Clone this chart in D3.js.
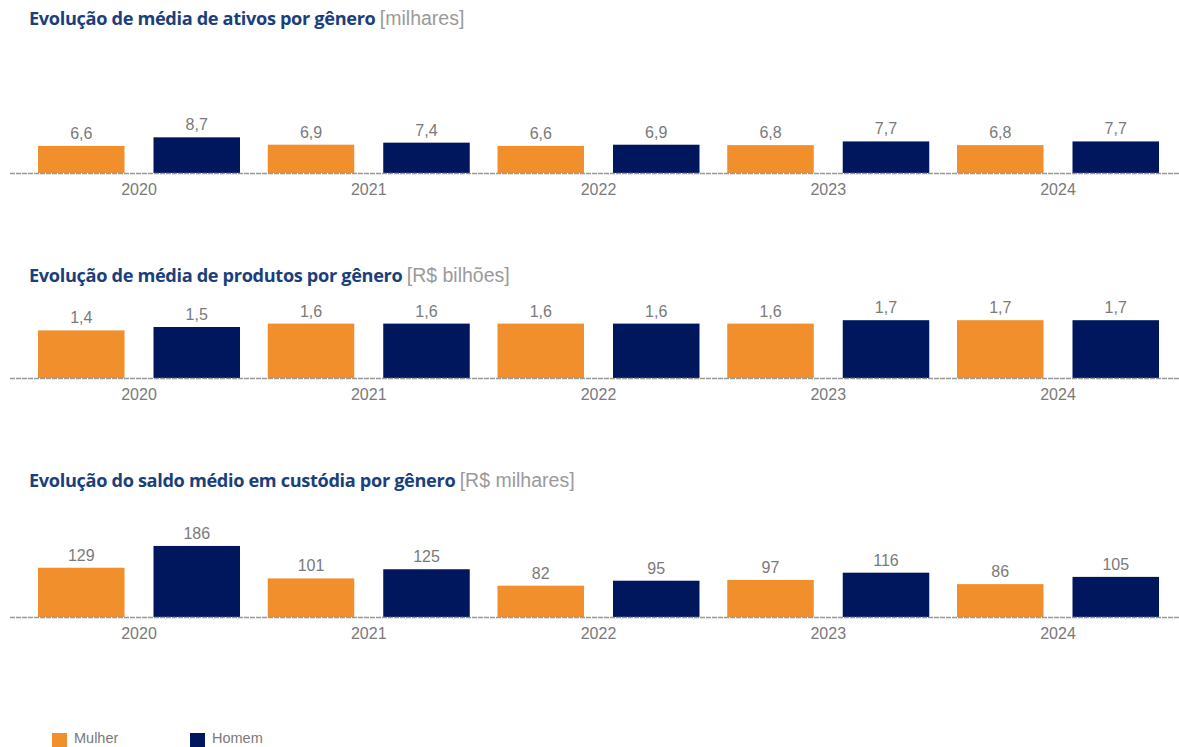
<!DOCTYPE html>
<html><head><meta charset="utf-8">
<script src="https://cdn.jsdelivr.net/npm/d3@7"></script>
<style>
body{margin:0;background:#fff;}
svg{display:block;font-family:"Liberation Sans",Arial,sans-serif;}
</style></head>
<body>
<svg id="c" width="1179" height="747"></svg>
<script>
const years = ["2020","2021","2022","2023","2024"];
const genders = ["Mulher","Homem"];
const ativosMulher = [6.6, 6.9, 6.6, 6.8, 6.8];
const ativosHomem  = [8.7, 7.4, 6.9, 7.7, 7.7];
const produtosMulher = [1.4, 1.6, 1.6, 1.6, 1.7];
const produtosHomem  = [1.5, 1.6, 1.6, 1.7, 1.7];
const saldoMulher = [129, 101, 82, 97, 86];
const saldoHomem  = [186, 125, 95, 116, 105];
const titles = ["Evolução de média de ativos por gênero","Evolução de média de produtos por gênero","Evolução do saldo médio em custódia por gênero"];
const units = ["[milhares]","[R$ bilhões]","[R$ milhares]"];

const colors = {Mulher:"#F18F2C", Homem:"#00175E"};
const svg = d3.select("#c");

const x0 = d3.scaleBand().domain(years).range([38,1159]).paddingInner(0.1208).paddingOuter(0);
const x1 = d3.scaleBand().domain(genders).range([0,x0.bandwidth()]).paddingInner(0.251).paddingOuter(0);

const panels = [
  {title:titles[0], unit:units[0], m:ativosMulher, h:ativosHomem, base:173, dom:[0,10], px:41, titleY:25, fmt:d=>d.toFixed(1).replace(".",",")},
  {title:titles[1], unit:units[1], m:produtosMulher, h:produtosHomem, base:378, dom:[0,2], px:68, titleY:282, fmt:d=>d.toFixed(1).replace(".",",")},
  {title:titles[2], unit:units[2], m:saldoMulher, h:saldoHomem, base:617, dom:[0,200], px:76.4, titleY:487, fmt:d=>String(d)}
];

panels.forEach(p=>{
  const y = d3.scaleLinear().domain(p.dom).range([p.base, p.base - p.px]);
  const g = svg.append("g");
  const t = g.append("text").attr("x",29).attr("y",p.titleY).attr("font-size",18.2)
    .attr("font-family","'Open Sans',sans-serif");
  t.append("tspan").attr("font-weight","bold").attr("fill","#1B3F7C").attr("letter-spacing",-0.35).text(p.title+" ");
  t.append("tspan").attr("fill","#9a9a9a").attr("font-family","'Liberation Sans',Arial,sans-serif").attr("font-size",19.5).text(p.unit);

  const data = [];
  years.forEach((yr,i)=>{
    data.push({year:yr, g:"Mulher", v:p.m[i]});
    data.push({year:yr, g:"Homem", v:p.h[i]});
  });
  g.selectAll("rect.bar").data(data).join("rect")
    .attr("x",d=>x0(d.year)+x1(d.g))
    .attr("width",x1.bandwidth())
    .attr("y",d=>y(d.v))
    .attr("height",d=>y(0)-y(d.v))
    .attr("fill",d=>colors[d.g]);
  g.selectAll("text.val").data(data).join("text")
    .attr("x",d=>x0(d.year)+x1(d.g)+x1.bandwidth()/2)
    .attr("y",d=>y(d.v)-7)
    .attr("text-anchor","middle").attr("font-size",16).attr("fill","#7a7a7a")
    .text(d=>p.fmt(d.v));
  g.append("line").attr("x1",10).attr("x2",1179).attr("y1",p.base+0.5).attr("y2",p.base+0.5)
    .attr("stroke","#999").attr("stroke-width",1.5).attr("stroke-dasharray","5,1");
  g.selectAll("text.yr").data(years).join("text")
    .attr("x",d=>x0(d)+x0.bandwidth()/2)
    .attr("y",p.base+22)
    .attr("text-anchor","middle").attr("font-size",16).attr("fill","#7a7a7a")
    .text(d=>d);
});

const leg = svg.append("g");
const legX = {Mulher:52, Homem:190};
genders.forEach(gn=>{
  leg.append("rect").attr("x",legX[gn]).attr("y",733).attr("width",15).attr("height",14).attr("fill",colors[gn]);
  leg.append("text").attr("x",legX[gn]+22).attr("y",743).attr("font-size",14.5).attr("fill","#7a7a7a").text(gn);
});
</script>
</body></html>
